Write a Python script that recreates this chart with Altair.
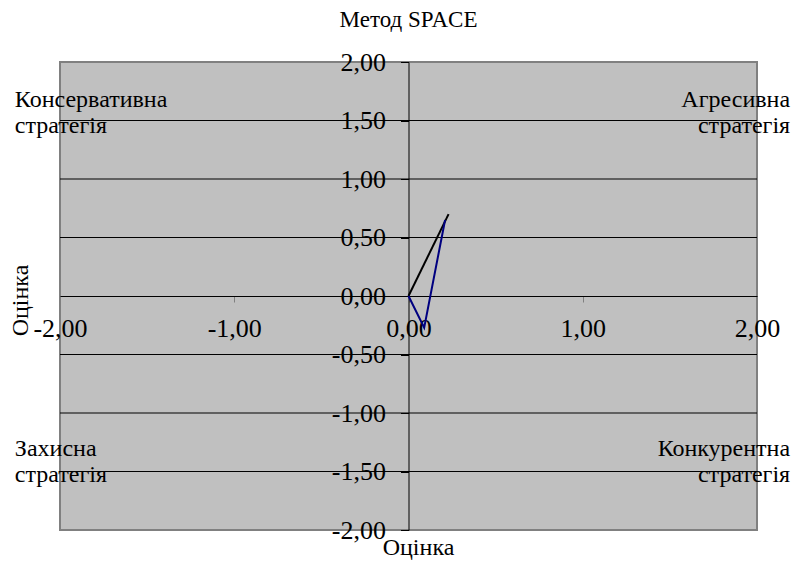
import altair as alt
import pandas as pd

# ---- data ----
series_names = ["Ряд1", "Ряд1", "Ряд2", "Ряд2", "Ряд2"]
series_x = [0.0, 0.23, 0.0, 0.09, 0.21]
series_y = [0.0, 0.70, 0.0, -0.27, 0.65]
series_order = [0, 1, 0, 1, 2]

grid_y = [-1.5, -1.0, -0.5, 0.5, 1.0, 1.5]
x_ticks = [-2, -1, 0, 1, 2]
y_ticks = [-2, -1.5, -1, -0.5, 0, 0.5, 1, 1.5, 2]

left_labels = ["Консервативна\nстратегія", "Захисна\nстратегія"]
left_x = [-2.259, -2.259]
left_y = [1.615, -1.37]
right_labels = ["Агресивна\nстратегія", "Конкурентна\nстратегія"]
right_x = [2.19, 2.19]
right_y = [1.615, -1.37]

title_text = "Метод SPACE"
axis_title = "Оцінка"

W, H = 697, 468
FONT = "Liberation Serif"
label_expr = "replace(replace(format(datum.value, '.2f'), '.', ','), '\u2212', '-')"

lines_df = pd.DataFrame({"s": series_names, "x": series_x, "y": series_y, "o": series_order})
grid_df = pd.DataFrame({"y": grid_y})
left_df = pd.DataFrame({"t": left_labels, "x": left_x, "y": left_y})
right_df = pd.DataFrame({"t": right_labels, "x": right_x, "y": right_y})
title_df = pd.DataFrame({"t": [title_text]})

xs = alt.Scale(domain=[-2, 2], nice=False, zero=False)
ys = alt.Scale(domain=[-2, 2], nice=False, zero=False)

x_axis = alt.Axis(
    values=x_ticks, orient="bottom", offset=-H / 2, grid=False,
    domainColor="black", domainWidth=1, tickColor="#808080", tickSize=6,
    labelFont=FONT, labelFontSize=26, labelColor="black", labelPadding=13,
    labelFlush=False, labelExpr=label_expr, labelOverlap=False,
    title=axis_title, titleFont=FONT, titleFontSize=24, titleFontWeight="normal",
    titleColor="black", titleX=358, titleY=258, titleBaseline="alphabetic",
    titleAnchor="middle", titleAlign="center",
)
y_axis = alt.Axis(
    values=y_ticks, orient="left", offset=-W / 2, grid=False,
    domainColor="black", domainWidth=1, tickColor="black", tickSize=8,
    labelFont=FONT, labelFontSize=26, labelColor="black", labelPadding=15,
    labelFlush=False, labelExpr=label_expr, labelOverlap=False,
    labelBaseline="middle",
    title=axis_title, titleFont=FONT, titleFontSize=24, titleFontWeight="normal",
    titleColor="black", titleX=-381, titleY=238, titleBaseline="alphabetic",
    titleAngle=270, titleAlign="center",
)

grid = alt.Chart(grid_df).mark_rule(color="black", strokeWidth=1).encode(
    y=alt.Y("y:Q", scale=ys, axis=y_axis)
)

lines = alt.Chart(lines_df).mark_line(strokeWidth=2, clip=False).encode(
    x=alt.X("x:Q", scale=xs, axis=x_axis),
    y=alt.Y("y:Q", scale=ys),
    color=alt.Color("s:N", scale=alt.Scale(domain=["Ряд1", "Ряд2"], range=["black", "#000080"]), legend=None),
    order="o:Q",
)

left_text = alt.Chart(left_df).mark_text(
    font=FONT, fontSize=24, align="left", baseline="alphabetic", lineBreak="\n", lineHeight=26, color="black"
).encode(x=alt.X("x:Q", scale=xs), y=alt.Y("y:Q", scale=ys), text="t:N")

right_text = alt.Chart(right_df).mark_text(
    font=FONT, fontSize=24, align="right", baseline="alphabetic", lineBreak="\n", lineHeight=26, color="black"
).encode(x=alt.X("x:Q", scale=xs), y=alt.Y("y:Q", scale=ys), text="t:N")

title_mark = alt.Chart(title_df).mark_text(
    font=FONT, fontSize=23, align="center", baseline="alphabetic", color="black"
).encode(x=alt.value(W / 2), y=alt.value(-35), text="t:N")

chart = alt.layer(grid, lines, left_text, right_text, title_mark).properties(
    width=W, height=H,
    autosize=alt.AutoSizeParams(type="none"),
    padding={"left": 52, "top": 54, "right": 34, "bottom": 30},
).configure_view(fill="#c0c0c0", stroke="#808080", strokeWidth=2)

chart.save("out.html", embed_options={"renderer": "svg", "actions": False})
